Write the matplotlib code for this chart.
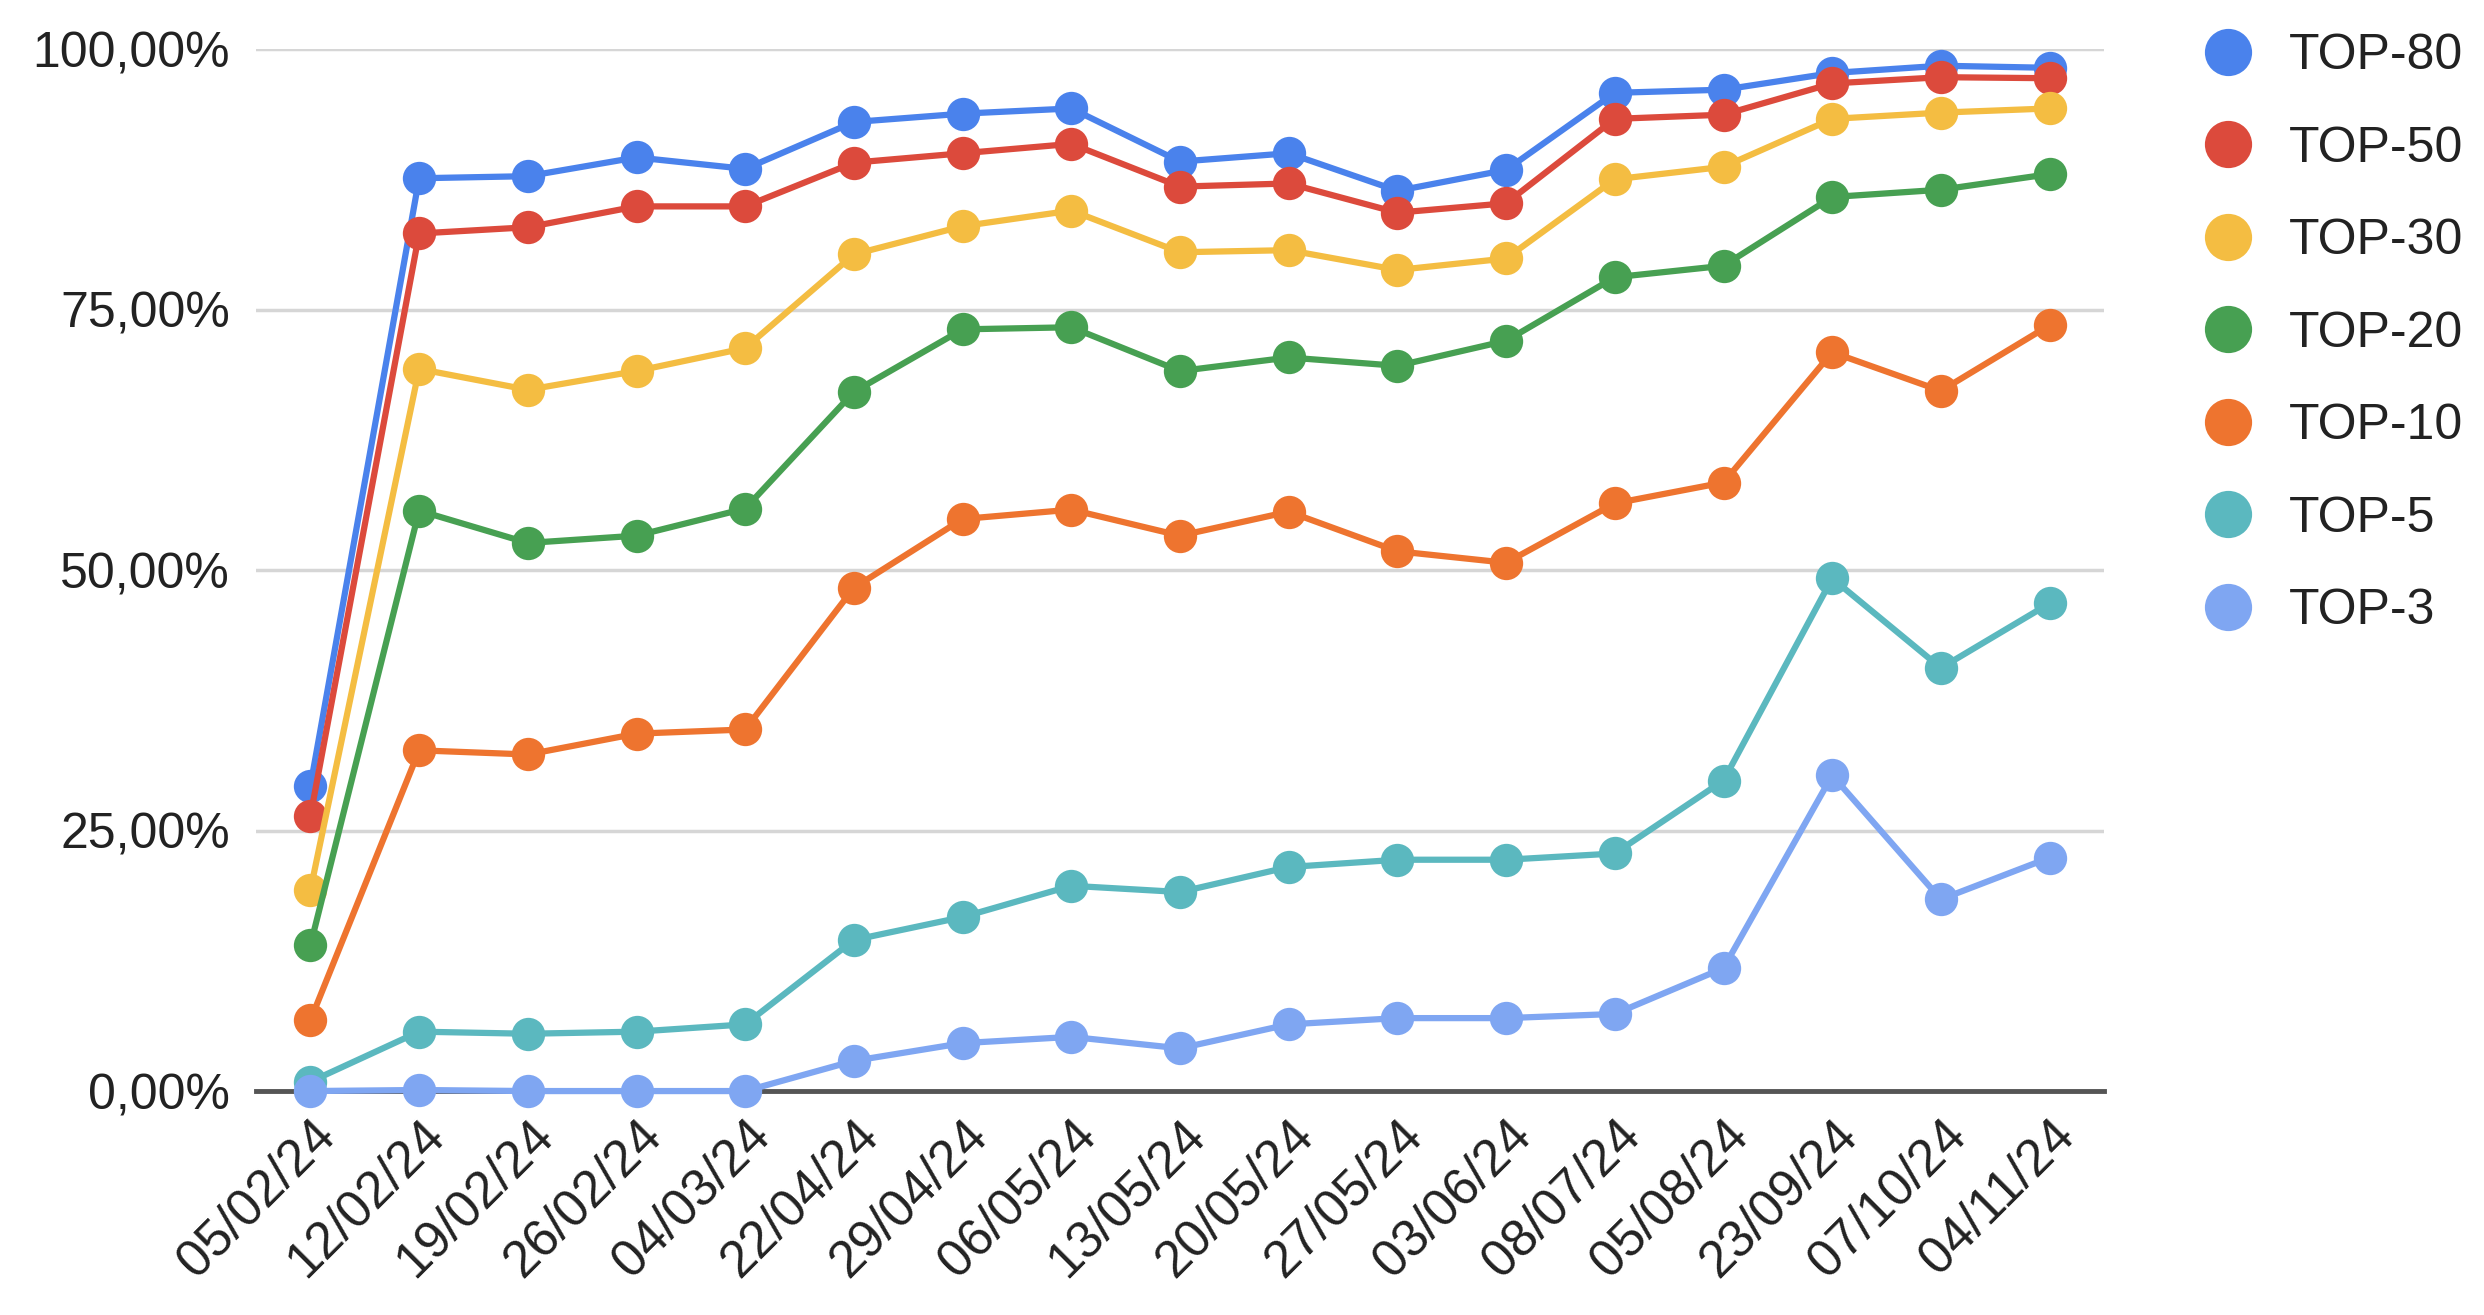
import matplotlib
matplotlib.use("Agg")
import matplotlib.pyplot as plt
from matplotlib.lines import Line2D
from matplotlib.ticker import FuncFormatter

plt.rcParams['font.family'] = ['Liberation Sans', 'DejaVu Sans']

dates = ["05/02/24", "12/02/24", "19/02/24", "26/02/24", "04/03/24", "22/04/24",
         "29/04/24", "06/05/24", "13/05/24", "20/05/24", "27/05/24", "03/06/24",
         "08/07/24", "05/08/24", "23/09/24", "07/10/24", "04/11/24"]

top80 = [29.3, 87.6, 87.8, 89.6, 88.5, 93.0, 93.8, 94.3, 89.2, 90.0, 86.4, 88.4,
         95.8, 96.1, 97.7, 98.4, 98.2]
top50 = [26.4, 82.3, 82.9, 84.9, 84.9, 89.1, 90.0, 90.9, 86.8, 87.1, 84.3, 85.2,
         93.3, 93.7, 96.7, 97.3, 97.2]
top30 = [19.3, 69.3, 67.3, 69.1, 71.3, 80.3, 83.0, 84.5, 80.5, 80.7, 78.8, 79.9,
         87.5, 88.7, 93.3, 93.9, 94.3]
top20 = [14.0, 55.7, 52.6, 53.3, 55.9, 67.1, 73.1, 73.3, 69.1, 70.4, 69.6, 72.0,
         78.1, 79.2, 85.8, 86.5, 88.0]
top10 = [6.8, 32.7, 32.3, 34.3, 34.7, 48.3, 54.9, 55.8, 53.3, 55.6, 51.8, 50.7,
         56.4, 58.4, 70.9, 67.2, 73.5]
top5 = [0.9, 5.7, 5.5, 5.7, 6.4, 14.5, 16.7, 19.7, 19.1, 21.5, 22.2, 22.2,
        22.8, 29.8, 49.2, 40.6, 46.8]
top3 = [0.0, 0.1, 0.0, 0.0, 0.0, 2.9, 4.6, 5.2, 4.1, 6.4, 7.0, 7.0,
        7.4, 11.8, 30.3, 18.4, 22.4]

series_names = ["TOP-80", "TOP-50", "TOP-30", "TOP-20", "TOP-10", "TOP-5", "TOP-3"]
series_values = [top80, top50, top30, top20, top10, top5, top3]
colors = ["#4a82ec", "#dc4a3c", "#f4bd42", "#47a052", "#ee742f", "#5bb8bf", "#7fa6f2"]

fig = plt.figure(figsize=(24.84, 13.15), dpi=100)
ax = fig.add_axes([0.1031, 0.1703, 0.7439, 0.7924])

x = list(range(len(dates)))
for name, vals, c in zip(series_names, series_values, colors):
    ax.plot(x, vals, color=c, lw=4.5, marker='o', markersize=24,
            markeredgewidth=0, label=name, clip_on=False, zorder=3)

ax.set_xlim(-0.5, len(dates) - 0.5)
ax.set_ylim(0, 100)
ax.set_yticks([0, 25, 50, 75, 100])
ax.yaxis.set_major_formatter(FuncFormatter(lambda v, p: f"{v:.2f}".replace('.', ',') + "%"))
ax.set_xticks(x)
ax.set_xticklabels(dates, rotation=45, ha='right', rotation_mode='anchor')

ax.grid(axis='y', color='#d6d6d6', lw=2.5, zorder=0)
ax.set_axisbelow(True)
for s in ['top', 'right', 'left']:
    ax.spines[s].set_visible(False)
ax.spines['bottom'].set_color('#555555')
ax.spines['bottom'].set_linewidth(3.5)
ax.spines['bottom'].set_zorder(2)
ax.tick_params(axis='y', length=0, pad=19, labelsize=36, labelcolor='#222222')
ax.tick_params(axis='x', length=0, pad=14, labelsize=37, labelcolor='#222222')

handles = [Line2D([], [], color=c, marker='o', linestyle='None', markersize=34,
                  markeredgewidth=0) for c in colors]
fig.legend(handles, series_names, loc='upper left', bbox_to_anchor=(0.879, 0.99),
           frameon=False, fontsize=36, labelspacing=0.93, handletextpad=0.7,
           borderaxespad=0, handlelength=1.0, labelcolor='#222222')

fig.savefig("out.png", dpi=100, facecolor='white')
